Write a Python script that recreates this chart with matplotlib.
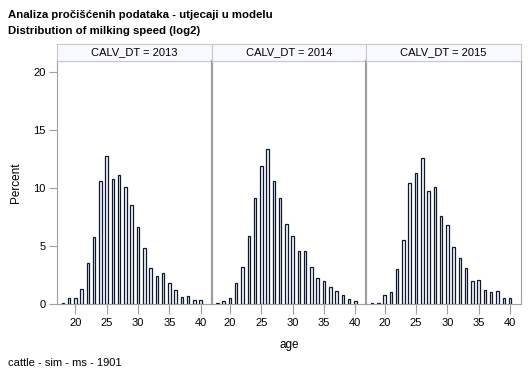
import matplotlib
matplotlib.use("Agg")
import matplotlib.pyplot as plt

plt.rcParams['font.family'] = ['Liberation Sans', 'DejaVu Sans']

ages = list(range(18, 41))
years = ["2013", "2014", "2015"]

pct_2013 = [0.1, 0.5, 0.5, 1.3, 3.5, 5.8, 10.6, 12.8, 10.8, 11.1, 10.1, 8.5,
            6.6, 4.8, 3.1, 2.4, 2.7, 1.8, 1.2, 0.6, 0.7, 0.35, 0.35]
pct_2014 = [0.1, 0.3, 0.5, 1.8, 3.2, 5.9, 9.1, 11.9, 13.4, 10.6, 9.1, 6.9,
            5.9, 4.6, 4.6, 3.2, 2.2, 2.0, 1.5, 1.1, 0.8, 0.45, 0.3]
pct_2015 = [0.1, 0.1, 0.8, 1.0, 3.0, 5.5, 10.4, 11.3, 12.6, 9.7, 10.1, 7.6,
            6.8, 4.9, 4.0, 3.1, 2.0, 2.1, 1.2, 1.0, 1.1, 0.55, 0.55]
series = [pct_2013, pct_2014, pct_2015]

W, H = 529, 378
fig = plt.figure(figsize=(W / 100, H / 100), dpi=100)

left, right = 57, 521
top, bottom = 61, 304
strip_top = 44
pw = (right - left) / 3
edge = "#A0A0A0"

axes = []
for i, (yr, vals) in enumerate(zip(years, series)):
    x0 = left + i * pw
    ax = fig.add_axes([x0 / W, (H - bottom) / H, pw / W, (bottom - top) / H])
    ax.bar(ages, vals, width=0.4, color="#F4F7FF", edgecolor="#101830", linewidth=0.9)
    ax.set_xlim(17.08, 41.75)
    ax.set_ylim(0, 20.95)
    ax.set_xticks([20, 25, 30, 35, 40])
    ax.set_yticks([0, 5, 10, 15, 20])
    for s in ax.spines.values():
        s.set_color(edge)
    ax.tick_params(axis="x", length=7, color=edge, labelsize=8, pad=3)
    ax.tick_params(axis="y", length=6, color=edge, labelsize=8, pad=2)
    if i > 0:
        ax.tick_params(axis="y", left=False, labelleft=False)
        ax.spines["left"].set_linewidth(1.6)
    # strip header
    sax = fig.add_axes([x0 / W, (H - top) / H, pw / W, (top - strip_top) / H])
    sax.set_xticks([])
    sax.set_yticks([])
    sax.set_facecolor("#F8F9FE")
    for s in sax.spines.values():
        s.set_color("#C8C8C8")
    sax.text(0.5, 0.5, "CALV_DT = " + yr, ha="center", va="center", fontsize=8,
             transform=sax.transAxes)
    axes.append(ax)

axes[0].set_ylabel("Percent", fontsize=8.5, labelpad=8)
axes[1].set_xlabel("age", fontsize=8.5, labelpad=8)

fig.text(8 / W, 1 - 15 / H, "Analiza pročišćenih podataka - utjecaji u modelu",
         fontsize=8.2, fontweight="bold", va="center")
fig.text(8 / W, 1 - 31 / H, "Distribution of milking speed (log2)",
         fontsize=8.2, fontweight="bold", va="center")
fig.text(8 / W, 1 - 363 / H, "cattle - sim - ms - 1901", fontsize=8, va="center")

fig.savefig("out.png", dpi=100)
